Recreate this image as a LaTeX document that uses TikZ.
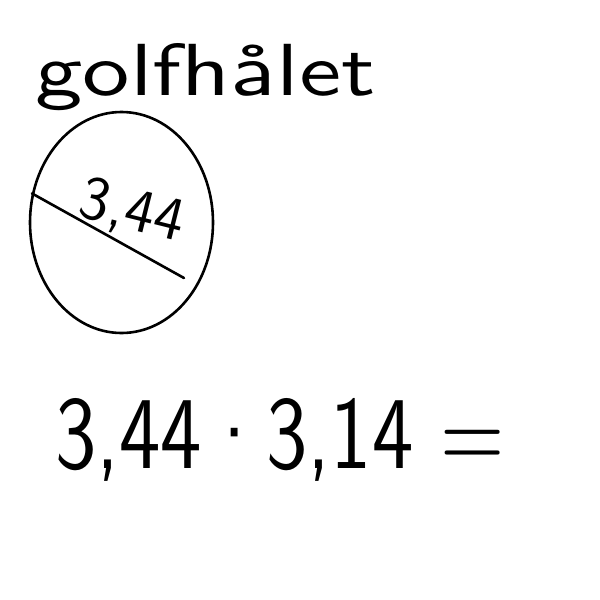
\documentclass[tikz,border=0pt]{standalone}
\usepackage{fontspec}
\usepackage{graphicx}
\usetikzlibrary{shapes.geometric}
\tikzset{
  stroke/.style={line width=2.6pt, line cap=round, line join=round, black},
  hand/.style={inner sep=0pt, font=\sffamily}
}
\begin{document}
\begin{tikzpicture}[x=1pt,y=-1pt]
\useasboundingbox[fill=white] (0,0) rectangle (600,600);
\node[hand, anchor=base west] (title) at (35,95) {\resizebox{340pt}{52pt}{golfhålet}};
\node[stroke, draw, ellipse, inner sep=0pt, minimum width=183pt, minimum height=221pt] (hole) at (121.5,222.5) {};
\coordinate (dend) at (184,278);
\draw[stroke] (hole.162) -- (dend);
\node[hand, rotate=-14] (dia) at (132,212) {\resizebox{105pt}{42pt}{3,44}};
\node[hand, anchor=base west] (calc) at (55,468) {\resizebox{450pt}{70pt}{3,44·3,14 =}};
\end{tikzpicture}
\end{document}
